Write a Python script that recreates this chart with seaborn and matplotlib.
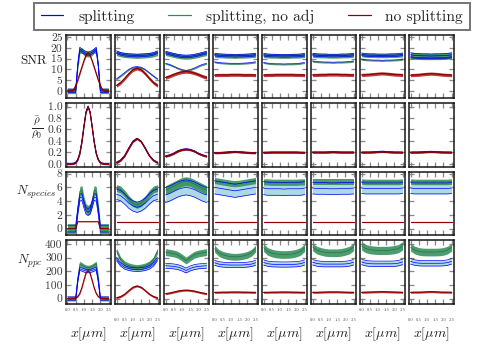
import numpy as np
import matplotlib
matplotlib.use('Agg')
import matplotlib.pyplot as plt
import seaborn as sns
from matplotlib.lines import Line2D

# ---------------- data ----------------
X_FIRST = [0, 0.125, 0.25, 0.375, 0.5, 0.625, 0.75, 0.875, 1.0, 1.125, 1.25,
           1.375, 1.5, 1.625, 1.75, 1.875, 2.0, 2.125, 2.25, 2.375, 2.5]
X_REST = [0, 0.25, 0.5, 0.75, 1.0, 1.25, 1.5, 1.75, 2.0, 2.25, 2.5]

SERIES = ["splitting", "splitting, no adj", "no splitting"]
ROW_LABELS = ["SNR", r"$\dfrac{\bar{\rho}}{\rho_0}$", r"$N_{species}$", r"$N_{ppc}$"]
XTICKS = [0.0, 0.5, 1.0, 1.5, 2.0, 2.5]
YTICKS = [[0, 5, 10, 15, 20, 25], [0.0, 0.2, 0.4, 0.6, 0.8, 1.0], [0, 2, 4, 6, 8], [0, 100, 200, 300, 400]]
YLIMS = [(-3.5, 26), (-0.055, 1.055), (-1.0, 8.25), (-40, 425)]

# Row 1: SNR (upper band and lower curve for the splitting runs)
SNR_SPLIT_HI = [
    [0, 0, 0, 0, 0, 12, 19.5, 18.6, 18.0, 17.5, 17.3, 17.5, 18.0, 18.6, 19.5, 12, 0, 0, 0, 0, 0],
    [18.0, 17.2, 16.8, 16.6, 16.5, 16.4, 16.5, 16.6, 16.8, 17.2, 18.0],
    [17.8, 17.3, 16.8, 16.4, 16.1, 16.0, 16.1, 16.4, 16.8, 17.3, 17.8],
    [16.9, 16.6, 16.5, 16.4, 16.4, 16.3, 16.4, 16.4, 16.5, 16.6, 16.9],
    [16.8, 16.5, 16.4, 16.4, 16.3, 16.3, 16.3, 16.4, 16.4, 16.5, 16.8],
    [16.9, 16.6, 16.5, 16.5, 16.4, 16.4, 16.4, 16.5, 16.5, 16.6, 16.9],
    [17.0, 16.7, 16.6, 16.6, 16.5, 16.5, 16.5, 16.6, 16.6, 16.7, 17.0],
    [16.8, 16.5, 16.4, 16.3, 16.3, 16.2, 16.3, 16.3, 16.4, 16.5, 16.8],
]
SNR_NOADJ_HI = [
    [0, 0, 0, 0, 0, 11, 18.6, 18.8, 17.8, 17.2, 17.0, 17.2, 17.8, 18.8, 18.6, 11, 0, 0, 0, 0, 0],
    [17.6, 17.0, 16.7, 16.5, 16.4, 16.3, 16.4, 16.5, 16.7, 17.0, 17.6],
    [17.5, 17.1, 16.6, 16.2, 15.9, 15.8, 15.9, 16.2, 16.6, 17.1, 17.5],
    [16.7, 16.5, 16.4, 16.3, 16.3, 16.2, 16.3, 16.3, 16.4, 16.5, 16.7],
    [16.6, 16.4, 16.3, 16.3, 16.2, 16.2, 16.2, 16.3, 16.3, 16.4, 16.6],
    [16.7, 16.5, 16.4, 16.4, 16.3, 16.3, 16.3, 16.4, 16.4, 16.5, 16.7],
    [16.8, 16.6, 16.5, 16.5, 16.4, 16.4, 16.4, 16.5, 16.5, 16.6, 16.8],
    [16.6, 16.4, 16.3, 16.2, 16.2, 16.1, 16.2, 16.2, 16.3, 16.4, 16.6],
]
SNR_SPLIT_LO = [
    None,
    [5.6, 7.0, 8.5, 10.0, 11.0, 11.3, 11.0, 10.0, 8.5, 7.0, 5.6],
    [12.8, 12.3, 11.5, 10.6, 9.9, 9.5, 9.9, 10.6, 11.5, 12.3, 12.8],
    [13.5, 13.2, 13.0, 12.9, 12.8, 12.8, 12.8, 12.9, 13.0, 13.2, 13.5],
    [13.2, 12.9, 12.7, 12.6, 12.6, 12.5, 12.6, 12.6, 12.7, 12.9, 13.2],
    [13.9, 13.6, 13.5, 13.4, 13.4, 13.3, 13.4, 13.4, 13.5, 13.6, 13.9],
    [14.8, 14.5, 14.4, 14.3, 14.3, 14.2, 14.3, 14.3, 14.4, 14.5, 14.8],
    [15.5, 15.2, 15.1, 15.0, 15.0, 15.0, 15.0, 15.0, 15.1, 15.2, 15.5],
]
SNR_NOADJ_LO = [
    None,
    [5.3, 6.7, 8.2, 9.7, 10.7, 11.0, 10.7, 9.7, 8.2, 6.7, 5.3],
    [12.5, 12.0, 11.2, 10.3, 9.6, 9.2, 9.6, 10.3, 11.2, 12.0, 12.5],
    [13.2, 12.9, 12.7, 12.6, 12.5, 12.5, 12.5, 12.6, 12.7, 12.9, 13.2],
    [12.9, 12.6, 12.4, 12.3, 12.3, 12.2, 12.3, 12.3, 12.4, 12.6, 12.9],
    [13.6, 13.3, 13.2, 13.1, 13.1, 13.0, 13.1, 13.1, 13.2, 13.3, 13.6],
    [14.5, 14.2, 14.1, 14.0, 14.0, 13.9, 14.0, 14.0, 14.1, 14.2, 14.5],
    [15.2, 14.9, 14.8, 14.7, 14.7, 14.7, 14.7, 14.7, 14.8, 14.9, 15.2],
]
SNR_NOSPLIT = [
    [0, 0, 0, 0.5, 2.5, 5, 8, 11, 14, 16.5, 17.8, 16.5, 14, 11, 8, 5, 2.5, 0.5, 0, 0, 0],
    [2.5, 3.8, 5.8, 8.0, 9.8, 10.5, 9.8, 8.0, 5.8, 3.8, 2.5],
    [6.2, 6.8, 7.6, 8.3, 8.8, 9.0, 8.8, 8.3, 7.6, 6.8, 6.2],
    [7.3, 7.4, 7.4, 7.4, 7.5, 7.5, 7.5, 7.4, 7.4, 7.4, 7.3],
    [7.3, 7.4, 7.4, 7.5, 7.5, 7.5, 7.5, 7.5, 7.4, 7.4, 7.3],
    [7.4, 7.4, 7.5, 7.5, 7.6, 7.6, 7.6, 7.5, 7.5, 7.4, 7.4],
    [7.4, 7.5, 7.6, 7.8, 8.0, 8.1, 8.0, 7.8, 7.6, 7.5, 7.4],
    [7.3, 7.4, 7.5, 7.7, 7.9, 8.0, 7.9, 7.7, 7.5, 7.4, 7.3],
]
SNR_SPLIT_SD = [0.8, 0.6, 0.6, 0.6, 0.6, 0.6, 0.6, 0.9]
SNR_NOADJ_SD = [1.3, 1.2, 1.1, 1.1, 1.1, 1.1, 1.0, 1.4]
SNR_LO_SD = [0, 0.2, 0.2, 0.2, 0.2, 0.2, 0.2, 0.2]
SNR_NOSPLIT_SD = [0.45, 0.8, 0.8, 0.75, 0.75, 0.75, 0.75, 0.75]

# Row 2: normalised density
RHO_SPLIT = [
    [0, 0, 0, 0.005, 0.02, 0.07, 0.18, 0.38, 0.65, 0.9, 1.0, 0.9, 0.65, 0.38, 0.18, 0.07, 0.02, 0.005, 0, 0, 0],
    [0.02, 0.06, 0.14, 0.27, 0.39, 0.44, 0.39, 0.27, 0.14, 0.06, 0.02],
    [0.13, 0.15, 0.18, 0.22, 0.245, 0.255, 0.245, 0.22, 0.18, 0.15, 0.13],
    [0.19, 0.19, 0.195, 0.2, 0.205, 0.21, 0.205, 0.2, 0.195, 0.19, 0.19],
    [0.195, 0.197, 0.2, 0.2, 0.2, 0.2, 0.2, 0.2, 0.2, 0.197, 0.195],
    [0.2, 0.2, 0.2, 0.2, 0.202, 0.205, 0.202, 0.2, 0.2, 0.2, 0.2],
    [0.198, 0.2, 0.2, 0.203, 0.208, 0.212, 0.208, 0.203, 0.2, 0.2, 0.198],
    [0.198, 0.2, 0.2, 0.203, 0.207, 0.21, 0.207, 0.203, 0.2, 0.2, 0.198],
]
RHO_NOADJ = [
    [0, 0, 0, 0.005, 0.02, 0.07, 0.18, 0.38, 0.65, 0.9, 1.0, 0.9, 0.65, 0.38, 0.18, 0.07, 0.02, 0.005, 0, 0, 0],
    [0.02, 0.06, 0.14, 0.27, 0.39, 0.44, 0.39, 0.27, 0.14, 0.06, 0.02],
    [0.13, 0.15, 0.18, 0.22, 0.245, 0.255, 0.245, 0.22, 0.18, 0.15, 0.13],
    [0.19, 0.19, 0.195, 0.2, 0.205, 0.21, 0.205, 0.2, 0.195, 0.19, 0.19],
    [0.195, 0.197, 0.2, 0.2, 0.2, 0.2, 0.2, 0.2, 0.2, 0.197, 0.195],
    [0.2, 0.2, 0.2, 0.2, 0.202, 0.205, 0.202, 0.2, 0.2, 0.2, 0.2],
    [0.198, 0.2, 0.2, 0.203, 0.208, 0.212, 0.208, 0.203, 0.2, 0.2, 0.198],
    [0.198, 0.2, 0.2, 0.203, 0.207, 0.21, 0.207, 0.203, 0.2, 0.2, 0.198],
]
RHO_NOSPLIT = [
    [0, 0, 0, 0.005, 0.02, 0.07, 0.18, 0.38, 0.65, 0.9, 1.0, 0.9, 0.65, 0.38, 0.18, 0.07, 0.02, 0.005, 0, 0, 0],
    [0.02, 0.06, 0.14, 0.27, 0.39, 0.44, 0.39, 0.27, 0.14, 0.06, 0.02],
    [0.13, 0.15, 0.18, 0.22, 0.245, 0.255, 0.245, 0.22, 0.18, 0.15, 0.13],
    [0.19, 0.19, 0.195, 0.2, 0.205, 0.21, 0.205, 0.2, 0.195, 0.19, 0.19],
    [0.195, 0.197, 0.2, 0.2, 0.2, 0.2, 0.2, 0.2, 0.2, 0.197, 0.195],
    [0.2, 0.2, 0.2, 0.2, 0.202, 0.205, 0.202, 0.2, 0.2, 0.2, 0.2],
    [0.198, 0.2, 0.2, 0.203, 0.208, 0.212, 0.208, 0.203, 0.2, 0.2, 0.198],
    [0.198, 0.2, 0.2, 0.203, 0.207, 0.21, 0.207, 0.203, 0.2, 0.2, 0.198],
]
RHO_SPLIT_SD = [0.01, 0.01, 0.01, 0.01, 0.01, 0.01, 0.01, 0.01]
RHO_NOADJ_SD = [0.01, 0.01, 0.01, 0.01, 0.01, 0.01, 0.01, 0.01]
RHO_NOSPLIT_SD = [0.016, 0.018, 0.018, 0.016, 0.016, 0.016, 0.016, 0.016]

# Row 3: number of species
NSP_SPLIT = [
    [0, 0, 0, 0, 0, 2.5, 4.5, 4.6, 3.5, 2.6, 2.4, 2.6, 3.5, 4.6, 4.5, 2.5, 0, 0, 0, 0, 0],
    [5.0, 4.8, 4.3, 3.7, 3.3, 3.1, 3.3, 3.7, 4.3, 4.8, 5.0],
    [4.9, 5.1, 5.4, 5.7, 5.9, 6.0, 5.9, 5.7, 5.4, 5.1, 4.9],
    [6.0, 5.9, 5.8, 5.7, 5.6, 5.5, 5.6, 5.7, 5.8, 5.9, 6.0],
    [5.9, 5.8, 5.8, 5.8, 5.8, 5.75, 5.8, 5.8, 5.8, 5.8, 5.9],
    [5.9, 5.85, 5.85, 5.85, 5.8, 5.8, 5.8, 5.85, 5.85, 5.85, 5.9],
    [5.9, 5.85, 5.85, 5.85, 5.85, 5.85, 5.85, 5.85, 5.85, 5.85, 5.9],
    [5.9, 5.85, 5.85, 5.85, 5.85, 5.85, 5.85, 5.85, 5.85, 5.85, 5.9],
]
NSP_NOADJ = [
    [0, 0, 0, 0, 0, 3.0, 5.4, 5.6, 4.0, 2.9, 2.7, 2.9, 4.0, 5.6, 5.4, 3.0, 0, 0, 0, 0, 0],
    [5.9, 5.7, 5.1, 4.3, 3.7, 3.45, 3.7, 4.3, 5.1, 5.7, 5.9],
    [5.6, 5.9, 6.2, 6.5, 6.8, 6.9, 6.8, 6.5, 6.2, 5.9, 5.6],
    [7.0, 6.9, 6.8, 6.7, 6.6, 6.55, 6.6, 6.7, 6.8, 6.9, 7.0],
    [6.8, 6.8, 6.75, 6.75, 6.75, 6.75, 6.75, 6.75, 6.75, 6.8, 6.8],
    [6.8, 6.8, 6.8, 6.8, 6.8, 6.8, 6.8, 6.8, 6.8, 6.8, 6.8],
    [6.85, 6.8, 6.8, 6.8, 6.8, 6.8, 6.8, 6.8, 6.8, 6.8, 6.85],
    [6.85, 6.8, 6.8, 6.8, 6.8, 6.8, 6.8, 6.8, 6.8, 6.8, 6.85],
]
NSP_NOSPLIT = [
    [0, 0, 0, 0, 0, 1, 1, 1, 1, 1, 1, 1, 1, 1, 1, 1, 0, 0, 0, 0, 0],
    [1, 1, 1, 1, 1, 1, 1, 1, 1, 1, 1],
    [1, 1, 1, 1, 1, 1, 1, 1, 1, 1, 1],
    [1, 1, 1, 1, 1, 1, 1, 1, 1, 1, 1],
    [1, 1, 1, 1, 1, 1, 1, 1, 1, 1, 1],
    [1, 1, 1, 1, 1, 1, 1, 1, 1, 1, 1],
    [1, 1, 1, 1, 1, 1, 1, 1, 1, 1, 1],
    [1, 1, 1, 1, 1, 1, 1, 1, 1, 1, 1],
]
NSP_SPLIT_SD = [0.5, 0.75, 1.1, 0.95, 0.95, 0.85, 0.8, 0.8]
NSP_NOADJ_SD = [0.7, 0.5, 0.65, 0.45, 0.45, 0.4, 0.4, 0.4]
NSP_NOSPLIT_SD = [0, 0, 0, 0, 0, 0, 0, 0]

# Row 4: particles per cell
NPPC_SPLIT = [
    [0, 0, 0, 0, 0, 130, 218, 212, 206, 202, 200, 202, 206, 212, 218, 130, 0, 0, 0, 0, 0],
    [290, 250, 228, 218, 213, 211, 213, 218, 228, 250, 290],
    [240, 238, 235, 230, 220, 205, 220, 230, 235, 238, 240],
    [262, 252, 248, 246, 245, 245, 245, 246, 248, 252, 262],
    [264, 255, 251, 250, 249, 249, 249, 250, 251, 255, 264],
    [266, 257, 253, 252, 252, 252, 252, 252, 253, 257, 266],
    [268, 259, 255, 254, 254, 254, 254, 254, 255, 259, 268],
    [272, 263, 259, 258, 258, 258, 258, 258, 259, 263, 272],
]
NPPC_NOADJ = [
    [0, 0, 0, 0, 0, 150, 255, 245, 235, 228, 225, 228, 235, 245, 255, 150, 0, 0, 0, 0, 0],
    [350, 285, 255, 240, 232, 228, 232, 240, 255, 285, 350],
    [340, 335, 330, 320, 300, 278, 300, 320, 330, 335, 340],
    [365, 335, 320, 312, 307, 305, 307, 312, 320, 335, 365],
    [372, 345, 333, 326, 323, 322, 323, 326, 333, 345, 372],
    [378, 355, 345, 338, 335, 335, 335, 338, 345, 355, 378],
    [385, 366, 358, 354, 352, 352, 352, 354, 358, 366, 385],
    [375, 355, 345, 341, 340, 340, 340, 341, 345, 355, 375],
]
NPPC_NOSPLIT = [
    [0, 0, 0, 1, 4, 14, 37, 78, 133, 185, 205, 185, 133, 78, 37, 14, 4, 1, 0, 0, 0],
    [5, 14, 32, 58, 82, 92, 82, 58, 32, 14, 5],
    [35, 40, 47, 54, 59, 61, 59, 54, 47, 40, 35],
    [45, 45, 46, 46, 47, 47, 47, 46, 46, 45, 45],
    [45, 45, 46, 46, 47, 47, 47, 46, 46, 45, 45],
    [45, 45, 46, 47, 48, 48, 48, 47, 46, 45, 45],
    [45, 46, 47, 48, 49, 50, 49, 48, 47, 46, 45],
    [45, 46, 46, 47, 49, 50, 49, 47, 46, 46, 45],
]
NPPC_SPLIT_SD = [12, 13, 18, 18, 19, 20, 20, 20]
NPPC_NOADJ_SD = [18, 20, 25, 25, 28, 28, 30, 28]
NPPC_NOSPLIT_SD = [4, 7, 7, 7, 7, 7, 7, 7]

# ---------------- style ----------------
sns.set_style("ticks")
plt.rcParams["font.family"] = ["cmr10", "DejaVu Serif"]
plt.rcParams["mathtext.fontset"] = "cm"
plt.rcParams["axes.formatter.use_mathtext"] = True

C_BLUE = "#0000ff"
C_LIGHTBLUE = "#add8e6"
C_GREEN = "#2e8b57"
C_GREEN_LINE = "#1f6b40"
C_RED = "#8b0000"

fig, axes = plt.subplots(4, 8, figsize=(504 / 72, 349 / 72), dpi=72, sharex=True, sharey="row")
fig.subplots_adjust(left=0.130, right=0.900, bottom=0.129, top=0.900, wspace=0.089, hspace=0.079)


def line(ax, x, y, color, lw, z):
    sns.lineplot(x=x, y=y, ax=ax, color=color, lw=lw, zorder=z,
                 estimator=None, sort=False, legend=False)


def panel(ax, x, s, s_sd, g, g_sd, r, r_sd, s_lo=None, g_lo=None, lo_sd=0):
    x = np.asarray(x, float)
    s = np.asarray(s, float)
    g = np.asarray(g, float)
    r = np.asarray(r, float)
    if s_sd > 0:
        ax.fill_between(x, s - s_sd, s + s_sd, color=C_LIGHTBLUE, lw=0, zorder=1)
    if g_sd > 0:
        ax.fill_between(x, g - g_sd, g + g_sd, color=C_GREEN, alpha=0.85, lw=0, zorder=2)
    line(ax, x, g, C_GREEN_LINE, 0.6, 3)
    for yy in ((s - s_sd, s, s + s_sd) if s_sd > 0 else (s,)):
        line(ax, x, yy, C_BLUE, 0.7, 4)
    if g_lo is not None:
        g_lo = np.asarray(g_lo, float)
        s_lo = np.asarray(s_lo, float)
        if lo_sd > 0:
            ax.fill_between(x, g_lo - lo_sd, g_lo + lo_sd, color=C_GREEN, alpha=0.85, lw=0, zorder=2)
        line(ax, x, g_lo, C_GREEN_LINE, 0.6, 3)
        line(ax, x, s_lo, C_BLUE, 0.7, 4)
    if r_sd > 0:
        ax.fill_between(x, r - r_sd, r + r_sd, color="#a00000", alpha=0.75, lw=0, zorder=5)
    line(ax, x, r, C_RED, 1.2, 6)


rows = [
    (SNR_SPLIT_HI, SNR_SPLIT_SD, SNR_NOADJ_HI, SNR_NOADJ_SD, SNR_NOSPLIT, SNR_NOSPLIT_SD),
    (RHO_SPLIT, RHO_SPLIT_SD, RHO_NOADJ, RHO_NOADJ_SD, RHO_NOSPLIT, RHO_NOSPLIT_SD),
    (NSP_SPLIT, NSP_SPLIT_SD, NSP_NOADJ, NSP_NOADJ_SD, NSP_NOSPLIT, NSP_NOSPLIT_SD),
    (NPPC_SPLIT, NPPC_SPLIT_SD, NPPC_NOADJ, NPPC_NOADJ_SD, NPPC_NOSPLIT, NPPC_NOSPLIT_SD),
]

label_pos = [(-0.72, 0.59), (-0.63, 0.63), (-0.64, 0.67), (-0.79, 0.67)]
label_size = [13, 11, 13, 13]

for i, (S, SSD, G, GSD, R, RSD) in enumerate(rows):
    for j in range(8):
        ax = axes[i, j]
        x = X_FIRST if j == 0 else X_REST
        if i == 0:
            panel(ax, x, S[j], SSD[j], G[j], GSD[j], R[j], RSD[j],
                  s_lo=SNR_SPLIT_LO[j], g_lo=SNR_NOADJ_LO[j], lo_sd=SNR_LO_SD[j])
        else:
            panel(ax, x, S[j], SSD[j], G[j], GSD[j], R[j], RSD[j])
        ax.set_xlim(-0.12, 2.62)
        ax.set_ylim(*YLIMS[i])
        ax.set_yticks(YTICKS[i])
        ax.set_xticks(XTICKS)
        ax.tick_params(axis="both", which="both", direction="in", top=True, right=True,
                       length=5, width=1.3, color="#8a8a8a", labelcolor="#3a3a3a")
        ax.tick_params(axis="y", labelsize=11.5, pad=3)
        ax.tick_params(axis="x", labelsize=4.6, labelcolor="#555555")
        for sp in ax.spines.values():
            sp.set_linewidth(1.5)
            sp.set_color("#111111")
        ax.set_xlabel("")
        ax.set_ylabel("")
        if i == 3:
            ax.set_xlabel(r"$x[\mu m]$", fontsize=14, color="#222222")
            ax.xaxis.set_label_coords(0.5, -0.34)
    axes[i, 0].set_ylabel(ROW_LABELS[i], rotation=0, fontsize=label_size[i], color="#222222",
                          ha="center", va="center")
    axes[i, 0].yaxis.set_label_coords(*label_pos[i])
    axes[i, 0].set_yticklabels([("%g" % v) if i != 1 else ("%.1f" % v) for v in YTICKS[i]])

# staggered tick labels on the bottom row
for j in range(8):
    ax = axes[3, j]
    ax.set_xticklabels(["%.1f" % v for v in XTICKS])
    for lab in ax.get_xticklabels():
        lab.set_y(0.0 if j % 2 == 0 else -0.16)

handles = [Line2D([0], [0], color=C_BLUE, lw=1.2),
           Line2D([0], [0], color=C_GREEN, lw=1.2),
           Line2D([0], [0], color=C_RED, lw=1.2)]
leg = fig.legend(handles=handles, labels=SERIES, loc="upper center",
                 bbox_to_anchor=(0.5, 1 - 3 / 349), ncol=3,
                 fontsize=15.5, handlelength=1.45, handletextpad=0.95, columnspacing=2.2,
                 frameon=True, fancybox=False, borderpad=0.42, borderaxespad=0)
for h, c in zip(leg.legend_handles, [C_BLUE, C_GREEN, C_RED]):
    h.set_color(c)
leg.get_frame().set_edgecolor("#555555")
leg.get_frame().set_linewidth(2)

fig.savefig("out.png", dpi=72)
